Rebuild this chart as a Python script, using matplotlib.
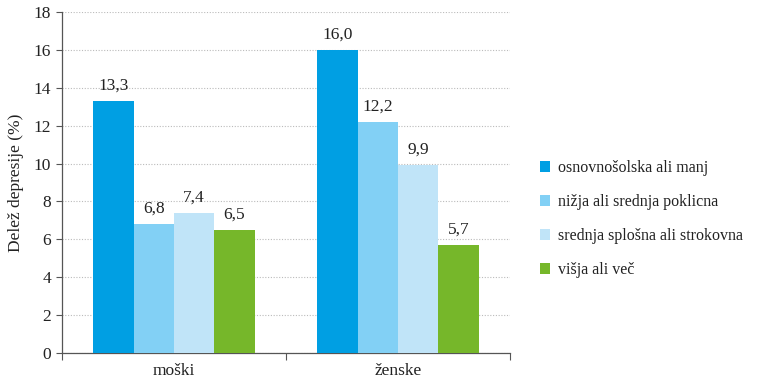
import matplotlib
matplotlib.use("Agg")
import matplotlib.pyplot as plt
import numpy as np

groups = ["moški", "ženske"]
series_names = [
    "osnovnošolska ali manj",
    "nižja ali srednja poklicna",
    "srednja splošna ali strokovna",
    "višja ali več",
]
values = [
    [13.3, 16.0],
    [6.8, 12.2],
    [7.4, 9.9],
    [6.5, 5.7],
]
colors = ["#009FE3", "#82D0F5", "#C0E4F8", "#76B72A"]
yticks = [0, 2, 4, 6, 8, 10, 12, 14, 16, 18]

plt.rcParams["font.family"] = ["Liberation Serif", "DejaVu Serif"]
FS = 12.5

fig = plt.figure(figsize=(7.64, 3.83), dpi=100)
ax = fig.add_axes([0.0812, 0.0783, 0.5863, 0.8904])

n = len(series_names)
bar_w = 0.18
x = np.arange(len(groups)) + 0.5
for i, (name, vals, c) in enumerate(zip(series_names, values, colors)):
    pos = x + (i - (n - 1) / 2) * bar_w
    bars = ax.bar(pos, vals, width=bar_w, color=c, label=name, zorder=3)
    for b, v in zip(bars, vals):
        ax.text(b.get_x() + b.get_width() / 2, v + 0.4,
                f"{v:.1f}".replace(".", ","), ha="center", va="bottom",
                fontsize=FS, color="#222222")

ax.set_xlim(0, len(groups))
ax.set_ylim(0, 18)
ax.set_yticks(yticks)
ax.set_yticklabels([str(t) for t in yticks], fontsize=FS, color="#222222")

# category boundary ticks with labels centred between them
ax.set_xticks(np.arange(len(groups) + 1))
ax.set_xticklabels([])
ax.set_xticks(x, minor=True)
ax.set_xticklabels(groups, minor=True, fontsize=FS, color="#222222")
ax.tick_params(axis="x", which="minor", length=0, pad=7)
ax.tick_params(axis="x", which="major", length=5, direction="out", color="#555555")
ax.tick_params(axis="y", length=4, direction="out", color="#555555", pad=4)

ax.yaxis.grid(True, linestyle=(0, (1, 1.5)), color="#bbbbbb", linewidth=0.8, zorder=0)
ax.set_axisbelow(True)
for s in ["top", "right"]:
    ax.spines[s].set_visible(False)
for s in ["left", "bottom"]:
    ax.spines[s].set_color("#555555")
    ax.spines[s].set_linewidth(0.9)

ax.set_ylabel("Delež depresije (%)", fontsize=FS, color="#222222", labelpad=7)

leg = fig.legend(loc="center left", bbox_to_anchor=(0.688, 0.428), frameon=False,
                 fontsize=11.5, handlelength=0.65, handleheight=0.65,
                 handletextpad=0.45, labelspacing=1.12)
for t in leg.get_texts():
    t.set_color("#222222")

fig.savefig("out.png", dpi=100)
